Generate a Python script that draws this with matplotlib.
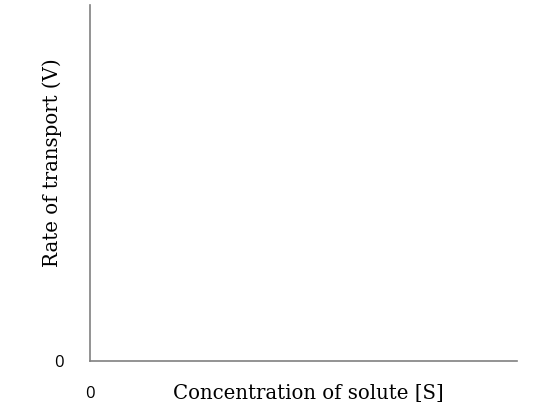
#!/usr/bin/env python3

import matplotlib
matplotlib.use("Agg")
import matplotlib.pyplot as plt

# axis content (the chart is an empty template)
x_label = "Concentration of solute [S]"
y_label = "Rate of transport (V)"
x_ticks = [0]
y_ticks = [0]
x_tick_labels = ["0"]
y_tick_labels = ["0"]
x_range = [0, 10]
y_range = [0, 10]

fig = plt.figure(figsize=(5.34, 4.09), dpi=100)
ax = fig.add_axes([90/534, 1-361/409, (517-90)/534, (361-5)/409])

ax.set_xlim(x_range)
ax.set_ylim(y_range)
ax.set_xticks(x_ticks)
ax.set_yticks(y_ticks)
ax.set_xticklabels(x_tick_labels, fontfamily="Open Sans", fontsize=12)
ax.set_yticklabels(y_tick_labels, fontfamily="Open Sans", fontsize=12)
ax.tick_params(axis="x", length=0, pad=18)
ax.tick_params(axis="y", length=0, pad=19)

for s in ["top", "right"]:
    ax.spines[s].set_visible(False)
for s in ["left", "bottom"]:
    ax.spines[s].set_color("#808080")
    ax.spines[s].set_linewidth(1.2)

# labels placed by hand, like the original
fig.text(308/534, 1-394/409, x_label, fontfamily="DejaVu Serif", fontsize=14.2,
         ha="center", va="center")
fig.text(52/534, 1-163/409, y_label, fontfamily="DejaVu Serif", fontsize=14.2,
         ha="center", va="center", rotation=90)

fig.savefig("out.png", dpi=100)
